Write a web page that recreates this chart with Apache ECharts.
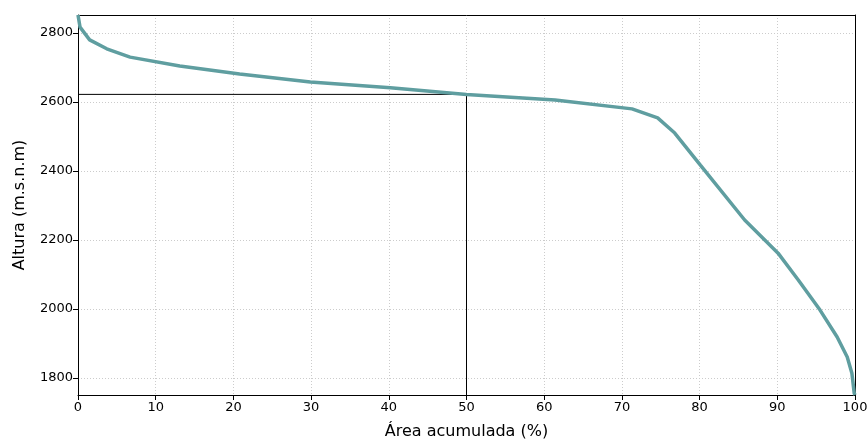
<!DOCTYPE html>
<html>
<head>
	<meta charset="utf-8" />
	<title>Curva hipsométrica</title>
	<style>
		* { padding: 0; margin: 0; }
		#main { width: 868px; height: 439px; }
	</style>
</head>
<body>
	<div id="main"></div>
	<script src="https://cdn.jsdelivr.net/npm/echarts@6/dist/echarts.min.js"></script>
	<script type="text/javascript">
		// área acumulada (%) y altura (m.s.n.m)
		var areaPct = [0, 0.26, 1.5, 3.7, 6.7, 13.1, 20.8, 29.9, 40.2, 50, 61.4, 71.3, 74.6, 76.8, 80.1, 85.8, 90.1, 92.7, 95.5, 97.7, 99.0, 99.6, 99.9, 100];
		var altura = [2852, 2817, 2780, 2754, 2730, 2704, 2681, 2658, 2641, 2622, 2606, 2580, 2554, 2510, 2417, 2258, 2162, 2084, 1997, 1919, 1861, 1814, 1756, 1751];
		// altura media (50% del área)
		var refArea = 50;
		var refAltura = 2622;
		var yTicks = [1800, 2000, 2200, 2400, 2600, 2800];
		var yMin = 1751, yMax = 2852;

		var curve = areaPct.map(function (a, i) { return [a, altura[i]]; });
		var refLine = [[0, refAltura], [refArea, refAltura], [refArea, yMin]];

		var font = 'DejaVu Sans';
		var grid = '#cccccc';
		var chart = echarts.init(document.getElementById('main'));
		var option = {
			animation: false,
			grid: {
				left: 78, right: 13, top: 15, bottom: 44,
				outerBoundsMode: 'none',
				containLabel: false
			},
			xAxis: [{
				type: 'value',
				min: 0, max: 100, interval: 10,
				name: 'Área acumulada (%)',
				nameLocation: 'middle',
				nameGap: 29,
				nameTextStyle: { fontFamily: font, fontSize: 16, color: '#000' },
				axisLine: { onZero: false, lineStyle: { color: '#000' } },
				axisTick: { length: 5, lineStyle: { color: '#000' } },
				axisLabel: { fontFamily: font, fontSize: 13, color: '#000', margin: 6 },
				splitLine: { show: true, lineStyle: { color: grid, type: [1, 2] } }
			}, {
				// borde superior
				type: 'value', position: 'top',
				min: 0, max: 100,
				axisLine: { onZero: false, lineStyle: { color: '#000' } },
				axisTick: { show: false }, axisLabel: { show: false }, splitLine: { show: false }
			}],
			yAxis: [{
				type: 'value',
				min: yMin, max: yMax,
				name: 'Altura (m.s.n.m)',
				nameLocation: 'middle',
				nameGap: 50,
				nameTextStyle: { fontFamily: font, fontSize: 16, color: '#000' },
				axisLine: { show: true, onZero: false, lineStyle: { color: '#000' } },
				axisTick: { show: true, length: 5, lineStyle: { color: '#000' }, customValues: yTicks },
				axisLabel: {
					fontFamily: font, fontSize: 13, color: '#000', margin: 5, customValues: yTicks,
					formatter: function (v) { return String(v); }
				},
				splitLine: { show: true, lineStyle: { color: grid, type: [1, 2] } }
			}, {
				// borde derecho
				type: 'value', position: 'right',
				min: yMin, max: yMax,
				axisLine: { show: true, onZero: false, lineStyle: { color: '#000' } },
				axisTick: { show: false }, axisLabel: { show: false }, splitLine: { show: false }
			}],
			series: [
				{
					type: 'line',
					data: refLine,
					symbol: 'none',
					lineStyle: { color: '#000', width: 1 },
					z: 3
				},
				{
					type: 'line',
					data: curve,
					symbol: 'none',
					lineStyle: { color: '#5f9ea0', width: 3.5 },
					z: 4
				}
			]
		};
		chart.setOption(option);
	</script>
</body>
</html>
